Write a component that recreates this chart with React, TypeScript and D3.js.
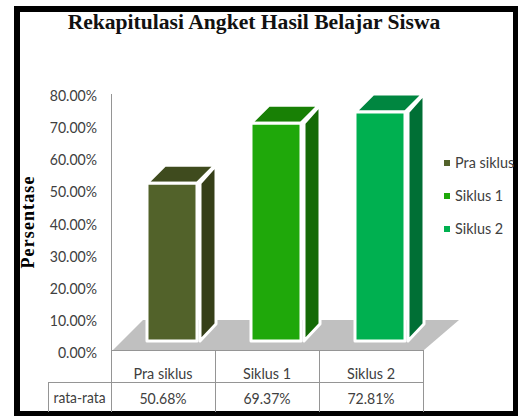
import React from "react";
import * as d3 from "d3";

const categories = ["Pra siklus", "Siklus 1", "Siklus 2"];
const values = [50.68, 69.37, 72.81];
const valueLabels = ["50.68%", "69.37%", "72.81%"];
const ticks = [0, 10, 20, 30, 40, 50, 60, 70, 80];
const frontColors = ["#52622a", "#1fa80a", "#00b050"];
const sideColors = ["#363f18", "#146a06", "#006f35"];
const topColors = ["#3f4b1e", "#188005", "#008640"];
const legendY = [163, 196, 229];

const W = 518, H = 416;
const y = d3.scaleLinear().domain([0, 80]).range([346, 89]);
const band = d3.scaleBand().domain(categories).range([111, 423]);
const fontSans = "Lato, 'Open Sans', sans-serif";
const fontSerif = "'Liberation Serif', serif";
const textColor = "#404040";
const gridColor = "#959595";

const Narrow = ({ x, y: ty, anchor = "middle", size = 16, sx = 0.88, children }: any) => (
  <text
    transform={`translate(${x},${ty}) scale(${sx},1)`}
    textAnchor={anchor}
    fontFamily={fontSans}
    fontSize={size}
    fill={textColor}
  >
    {children}
  </text>
);

export default function App() {
  const dx = 18, dy = 18;
  const floorY = 350;
  return (
    <svg width={W} height={H} style={{ position: "absolute", left: 0, top: 0, background: "#fff" }}>
      <rect x={17} y={9} width={499} height={405} fill="#fff" stroke="#000" strokeWidth={6} />
      <text x={254} y={29} textAnchor="middle" fontFamily={fontSerif} fontWeight="bold" fontSize={21.6} fill="#111">
        Rekapitulasi Angket Hasil Belajar Siswa
      </text>
      <text transform="translate(34,222) rotate(-90)" textAnchor="middle" fontFamily={fontSerif} fontWeight="bold" fontSize={18} letterSpacing={1.1} fill="#000">
        Persentase
      </text>

      <path d={`M113,${floorY} L143,320 L459,320 L424,${floorY} Z`} fill="#c0c0c0" />
      <line x1={111.5} x2={111.5} y1={94} y2={412} stroke={gridColor} strokeWidth={1} />

      {ticks.map((t) => (
        <Narrow key={t} x={97} y={y(t) + 12} anchor="end">
          {t.toFixed(2)}%
        </Narrow>
      ))}

      {categories.map((c, i) => {
        const x0 = band(c)! + 36;
        const w = 50;
        const top = y(values[i]);
        const bottom = y(0) - 5;
        const right = x0 + w;
        return (
          <g key={c} stroke="#fff" strokeWidth={3} strokeLinejoin="round">
            <path d={`M${right + 3},${top} L${right + dx + 1},${top - dy} L${right + dx + 1},${bottom - dy + 1} L${right + 3},${bottom} Z`} fill={sideColors[i]} />
            <path d={`M${x0},${top} L${x0 + dx},${top - dy} L${right + dx},${top - dy} L${right},${top} Z`} fill={topColors[i]} />
            <rect x={x0} y={top} width={w} height={bottom - top} fill={frontColors[i]} />
          </g>
        );
      })}

      <g stroke={gridColor} strokeWidth={1} fill="none">
        <line x1={111} x2={423} y1={350.5} y2={350.5} />
        <line x1={48} x2={423} y1={382.5} y2={382.5} />
        <line x1={48.5} x2={48.5} y1={382} y2={412} />
        {categories.map((c) => (
          <line key={c} x1={band(c)! + band.bandwidth() + 0.5} x2={band(c)! + band.bandwidth() + 0.5} y1={350} y2={412} />
        ))}
      </g>

      {categories.map((c, i) => (
        <g key={c}>
          <Narrow x={band(c)! + band.bandwidth() / 2} y={379} sx={0.9}>{c}</Narrow>
          <Narrow x={band(c)! + band.bandwidth() / 2} y={404} sx={0.88}>{valueLabels[i]}</Narrow>
        </g>
      ))}
      <Narrow x={79.5} y={403} size={15} sx={0.92}>rata-rata</Narrow>

      {categories.map((c, i) => (
        <g key={c}>
          <rect x={444} y={legendY[i] - 3} width={6} height={6} fill={frontColors[i]} />
          <Narrow x={455} y={legendY[i] + 5} anchor="start" sx={0.9}>{c}</Narrow>
        </g>
      ))}
    </svg>
  );
}
